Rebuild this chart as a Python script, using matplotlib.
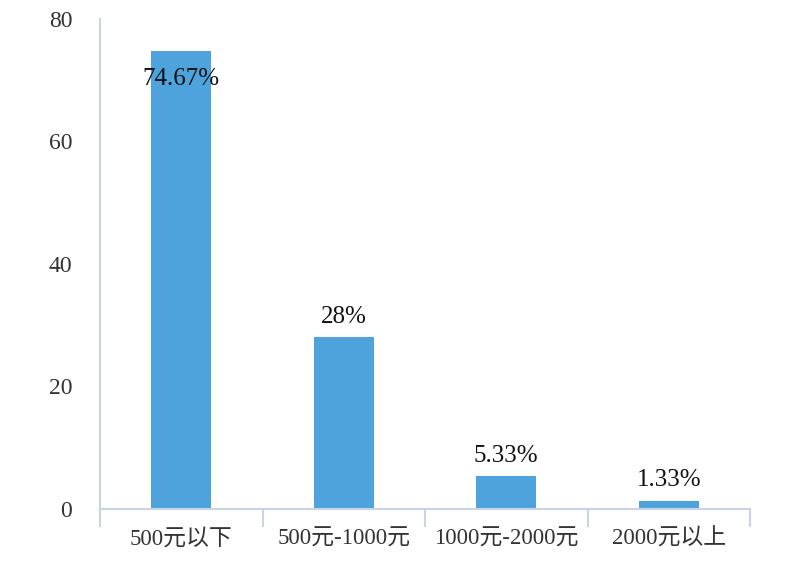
import matplotlib
matplotlib.use('Agg')
import matplotlib.pyplot as plt
import numpy as np

# data
categories = ['500元以下', '500元-1000元', '1000元-2000元', '2000元以上']
values = [74.67, 28, 5.33, 1.33]
labels = ['74.67%', '28%', '5.33%', '1.33%']
yticks = [0, 20, 40, 60, 80]

FONT = ['Liberation Serif', 'Noto Sans CJK SC', 'DejaVu Sans']
BAR_COLOR = '#4ea3dc'
AXIS_COLOR = '#c6d4e6'
TEXT_COLOR = '#333333'

fig = plt.figure(figsize=(8, 5.7), dpi=100)
ax = fig.add_axes([0.125, 0.107, 0.8125, 0.86])

x = np.arange(len(categories))
bars = ax.bar(x, values, width=0.37, color=BAR_COLOR, zorder=2)

ax.set_xlim(-0.5, len(categories) - 0.5)
ax.set_ylim(0, 80)

for spine in ['top', 'right']:
    ax.spines[spine].set_visible(False)
for spine in ['left', 'bottom']:
    ax.spines[spine].set_color(AXIS_COLOR)
    ax.spines[spine].set_linewidth(1.5)

ax.set_yticks(yticks)
ax.set_yticklabels([str(t) for t in yticks], family=FONT, fontsize=17, color=TEXT_COLOR)
ax.tick_params(axis='y', length=0, pad=20)

ax.set_xticks(x)
ax.set_xticklabels(categories, family=FONT, fontsize=16.5, color=TEXT_COLOR)
ax.tick_params(axis='x', which='major', length=0, pad=14)
ax.set_xticks(np.arange(len(categories) + 1) - 0.5, minor=True)
ax.tick_params(axis='x', which='minor', length=13, width=1.5, color=AXIS_COLOR, direction='out')

# value labels: first inside bar top, rest above
for i, (v, lab) in enumerate(zip(values, labels)):
    dy = -20 if i == 0 else 15
    ax.annotate(lab, (x[i], v), xytext=(0, dy), textcoords='offset points',
                ha='center', va='center', family=FONT, fontsize=18, color='#111111', zorder=3)

fig.savefig('out.png', dpi=100, facecolor='white')
